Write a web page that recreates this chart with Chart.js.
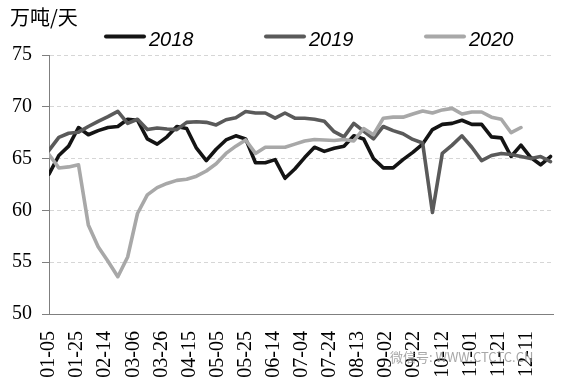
<!DOCTYPE html>
<html><head><meta charset="utf-8">
<script src="https://cdn.jsdelivr.net/npm/chart.js@4/dist/chart.umd.min.js"></script>
<style>html,body{margin:0;padding:0;background:#fff;overflow:hidden}#wrap{width:568px;height:383px}</style>
</head><body><div id="wrap"><canvas id="c" width="568" height="383"></canvas></div>
<script>
const unitLabel = '万吨/天';
const watermark = '微信号: WWW.CTCTC.CN';
const seriesNames = ['2018', '2019', '2020'];
const seriesColors = ['#141414', '#5a5a5a', '#a8a8a8'];
const weekDates = ['01-05','01-12','01-19','01-26','02-02','02-09','02-16','02-23','03-02','03-09','03-16','03-23','03-30',
  '04-06','04-13','04-20','04-27','05-04','05-11','05-18','05-25','06-01','06-08','06-15','06-22','06-29',
  '07-06','07-13','07-20','07-27','08-03','08-10','08-17','08-24','08-31','09-07','09-14','09-21','09-28',
  '10-05','10-12','10-19','10-26','11-02','11-09','11-16','11-23','11-30','12-07','12-14','12-21','12-28'];
const tickLabels = ['01-05','01-25','02-14','03-06','03-26','04-15','05-05','05-25','06-14','07-04','07-24',
  '08-13','09-02','09-22','10-12','11-01','11-21','12-11'];
const values2018 = [63.5,65.3,66.2,68.0,67.3,67.7,68.0,68.1,68.8,68.7,66.9,66.4,67.1,68.1,67.9,66.0,64.8,65.9,66.8,67.2,
  66.9,64.6,64.6,64.9,63.1,64.0,65.1,66.1,65.7,66.0,66.2,67.2,66.9,65.0,64.1,64.1,64.9,65.6,66.4,67.8,68.3,68.4,68.7,
  68.3,68.3,67.1,67.0,65.2,66.3,65.1,64.4,65.2];
const values2019 = [65.8,67.05,67.45,67.55,68.1,68.6,69.05,69.55,68.4,68.8,67.8,67.95,67.85,67.8,68.5,68.55,68.5,68.25,
  68.75,68.95,69.55,69.4,69.4,68.9,69.4,68.9,68.9,68.8,68.6,67.6,67.1,68.4,67.65,66.9,68.1,67.7,67.4,66.85,66.5,59.8,
  65.5,66.3,67.2,66.1,64.8,65.3,65.5,65.4,65.2,65.0,65.2,64.7];
const values2020 = [65.4,64.1,64.2,64.4,58.6,56.5,55.1,53.6,55.5,59.7,61.5,62.2,62.6,62.9,63.0,63.3,63.8,64.5,65.5,66.2,
  66.8,65.5,66.1,66.1,66.1,66.4,66.7,66.85,66.8,66.75,66.85,66.7,67.9,67.3,68.9,69.0,69.0,69.3,69.6,69.4,69.7,69.85,
  69.3,69.5,69.5,69.0,68.8,67.5,68.0];
const yMin = 50, yMax = 75, yStep = 5;

function dayOffset(md) {
  const p = md.split('-').map(Number);
  return Math.round((Date.UTC(2018, p[0] - 1, p[1]) - Date.UTC(2018, 0, 5)) / 86400000);
}
const allValues = [values2018, values2019, values2020];
const datasets = allValues.map((vals, k) => ({
  label: seriesNames[k],
  data: vals.map((v, i) => ({ x: dayOffset(weekDates[i]), y: v })),
  borderColor: seriesColors[k],
  backgroundColor: seriesColors[k],
  borderWidth: 3.6,
  pointRadius: 0,
  tension: 0,
  fill: false,
  borderJoinStyle: 'round',
  borderCapStyle: 'round',
  order: 3 - k
}));

const overlay = {
  id: 'overlay',
  afterDraw(chart) {
    const ctx = chart.ctx;
    ctx.save();
    ctx.fillStyle = '#000';
    ctx.textBaseline = 'alphabetic';
    ctx.font = '20px "Noto Sans CJK SC"';
    ctx.fillText(unitLabel, 10, 25);
    chart.data.datasets.forEach((ds, i) => {
      const x0 = 104 + i * 160;
      ctx.strokeStyle = ds.borderColor;
      ctx.lineWidth = 4;
      ctx.lineCap = 'round';
      ctx.beginPath();
      ctx.moveTo(x0 + 2, 36.5);
      ctx.lineTo(x0 + 40, 36.5);
      ctx.stroke();
      ctx.fillStyle = '#000';
      ctx.font = 'italic 20px "Liberation Sans"';
      ctx.fillText(ds.label, x0 + 45, 45.5);
    });
    ctx.globalAlpha = 0.75;
    ctx.font = '13px "Noto Sans CJK SC"';
    ctx.fillStyle = '#8a8a8a';
    ctx.fillText(watermark, 390, 362);
    ctx.restore();
  }
};

new Chart(document.getElementById('c'), {
  type: 'line',
  data: { datasets },
  options: {
    responsive: false,
    devicePixelRatio: 1,
    animation: false,
    layout: { padding: { top: 55, right: 8, left: 0, bottom: 0 } },
    plugins: { legend: { display: false }, title: { display: false }, tooltip: { enabled: false } },
    scales: {
      x: {
        type: 'linear',
        min: 0,
        max: 359,
        afterBuildTicks: (s) => { s.ticks = tickLabels.map(l => ({ value: dayOffset(l) })); },
        afterFit: (s) => { s.height = 69; },
        ticks: {
          autoSkip: false,
          minRotation: 90,
          maxRotation: 90,
          padding: 17,
          color: '#000',
          font: { family: 'Liberation Serif', size: 20 },
          callback: (v) => tickLabels.find(l => dayOffset(l) === v) || ''
        },
        grid: { display: false, drawTicks: false },
        border: { display: true, color: '#7f7f7f', width: 1 }
      },
      y: {
        min: yMin,
        max: yMax,
        afterFit: (s) => { s.width = 49; },
        ticks: {
          stepSize: yStep,
          padding: 10,
          color: '#000',
          font: { family: 'Liberation Serif', size: 20 }
        },
        grid: { color: '#d6d6d6', lineWidth: 1, tickLength: 7, tickColor: '#7f7f7f', tickBorderDash: [] },
        border: { display: true, color: '#7f7f7f', width: 1, dash: [4, 3] }
      }
    }
  },
  plugins: [overlay]
});
</script>
</body></html>
